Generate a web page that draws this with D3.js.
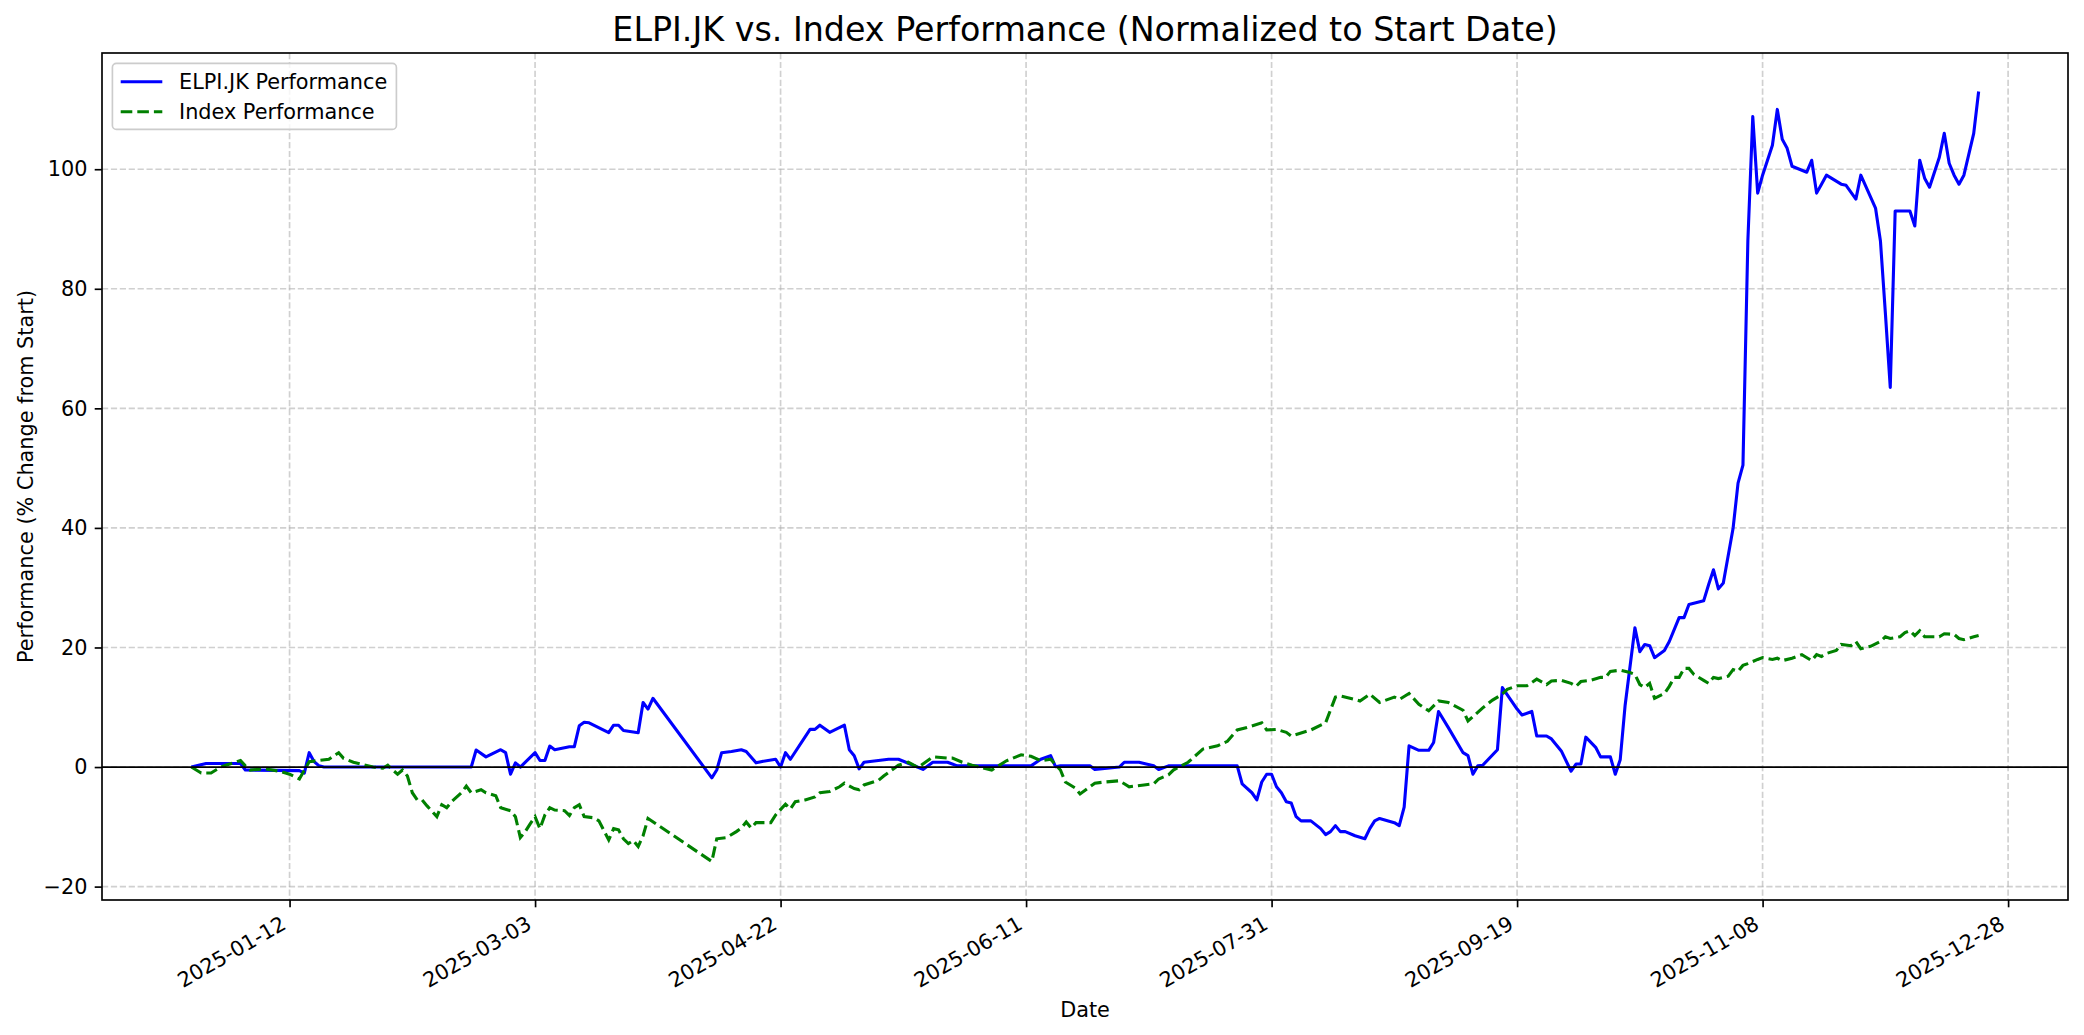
<!DOCTYPE html>
<html>
<head>
<meta charset="utf-8">
<script src="https://cdn.jsdelivr.net/npm/d3@7"></script>
<style>
  body { margin: 0; background: #fff; }
  text { font-family: "DejaVu Sans", sans-serif; fill: #000; }
</style>
</head>
<body>
<div id="chart"></div>
<script>
// values (% change from start)
const elpiDates = [
  "2024-12-23","2024-12-26","2025-01-02","2025-01-03","2025-01-14","2025-01-15","2025-01-16","2025-01-17","2025-01-18","2025-01-19",
  "2025-02-18","2025-02-19","2025-02-21","2025-02-24","2025-02-25","2025-02-26","2025-02-27","2025-02-28",
  "2025-03-03","2025-03-04","2025-03-05","2025-03-06","2025-03-07","2025-03-10","2025-03-11","2025-03-12","2025-03-13","2025-03-14",
  "2025-03-18","2025-03-19","2025-03-20","2025-03-21","2025-03-24","2025-03-25","2025-03-26","2025-03-27",
  "2025-04-08","2025-04-09","2025-04-10","2025-04-12","2025-04-14","2025-04-15","2025-04-17","2025-04-18","2025-04-21","2025-04-22","2025-04-23","2025-04-24",
  "2025-04-28","2025-04-29","2025-04-30","2025-05-02","2025-05-05","2025-05-06","2025-05-07","2025-05-08","2025-05-09","2025-05-14","2025-05-16","2025-05-19","2025-05-21","2025-05-23","2025-05-26","2025-05-28",
  "2025-06-12","2025-06-14","2025-06-16","2025-06-17","2025-06-18","2025-06-24","2025-06-25","2025-06-30","2025-07-01","2025-07-04","2025-07-07","2025-07-08","2025-07-10",
  "2025-07-24","2025-07-25","2025-07-27","2025-07-28","2025-07-29","2025-07-30","2025-07-31","2025-08-01","2025-08-02","2025-08-03","2025-08-04","2025-08-05","2025-08-06","2025-08-08",
  "2025-08-10","2025-08-11","2025-08-12","2025-08-13","2025-08-14","2025-08-15","2025-08-17","2025-08-19","2025-08-20","2025-08-21","2025-08-22","2025-08-25","2025-08-26","2025-08-27",
  "2025-08-28","2025-08-30","2025-09-01","2025-09-02","2025-09-03","2025-09-05","2025-09-08","2025-09-09","2025-09-10","2025-09-11","2025-09-12","2025-09-15","2025-09-16",
  "2025-09-19","2025-09-20","2025-09-22","2025-09-23","2025-09-25","2025-09-26","2025-09-28","2025-09-30",
  "2025-10-01","2025-10-02","2025-10-03","2025-10-05","2025-10-06","2025-10-08","2025-10-09","2025-10-10","2025-10-11","2025-10-13","2025-10-14","2025-10-15",
  "2025-10-16","2025-10-17","2025-10-19","2025-10-20","2025-10-22","2025-10-23","2025-10-24","2025-10-27","2025-10-28","2025-10-29","2025-10-30","2025-10-31",
  "2025-11-02","2025-11-03","2025-11-04","2025-11-05","2025-11-06","2025-11-07","2025-11-08","2025-11-10","2025-11-11","2025-11-12","2025-11-13","2025-11-14",
  "2025-11-17","2025-11-18","2025-11-19","2025-11-20","2025-11-21","2025-11-22","2025-11-24","2025-11-25","2025-11-27","2025-11-28",
  "2025-12-01","2025-12-02","2025-12-03","2025-12-04","2025-12-05","2025-12-08","2025-12-09","2025-12-10","2025-12-11","2025-12-12",
  "2025-12-14","2025-12-15","2025-12-16","2025-12-17","2025-12-18","2025-12-19","2025-12-21","2025-12-22"
];
const elpiValues = [
  0, 0.6, 0.6, -0.5, -0.6, -1.0, 2.4, 0.9, 0.2, 0,
  0, 2.85, 1.7, 2.9, 2.4, -1.2, 0.7, 0,
  2.4, 1.1, 1.1, 3.5, 2.9, 3.4, 3.4, 6.9, 7.5, 7.4,
  5.75, 7.0, 7.0, 6.1, 5.75, 10.8, 9.7, 11.5,
  -1.8, -0.5, 2.4, 2.6, 2.9, 2.6, 0.7, 0.9, 1.3, 0, 2.4, 1.3,
  6.3, 6.3, 7.0, 5.8, 7.0, 2.9, 1.9, -0.3, 0.8, 1.3, 1.3, 0.3, -0.4, 0.8, 0.8, 0.2,
  0.2, 1.3, 1.9, 0.05, 0.2, 0.2, -0.4, 0, 0.8, 0.8, 0.2, -0.4, 0.2,
  0.2, -2.8, -4.3, -5.5, -2.5, -1.2, -1.2, -3.3, -4.3, -5.8, -6.0, -8.3, -9.0, -9.0,
  -10.3, -11.3, -10.8, -9.8, -10.8, -10.8, -11.5, -12, -10.3, -9.0, -8.6, -9.3, -9.8, -6.7,
  3.55, 2.8, 2.8, 4.1, 9.3, 6.6, 2.4, 1.9, -1.2, 0.2, 0.3, 2.9, 13.3,
  9.7, 8.7, 9.3, 5.2, 5.2, 4.7, 2.7, -0.7,
  0.5, 0.5, 5.0, 3.3, 1.7, 1.7, -1.2, 1.2, 10.3, 23.3, 19.3, 20.5,
  20.3, 18.3, 19.5, 21, 25, 25, 27.2, 27.8, 30.5, 33, 29.8, 30.8,
  40, 47.5, 50.5, 88, 108.8, 96, 99, 104, 110, 105, 103.5, 100.5,
  99.5, 101.5, 96, 97.5, 99, 98.5, 97.5, 97.3, 95, 99,
  93.5, 88, 76, 63.5, 93, 93, 90.5, 101.5, 98.5, 97,
  102, 106, 101, 99, 97.5, 99, 106, 113
];

const indexDates = [
  "2024-12-23","2024-12-24","2024-12-25","2024-12-27","2024-12-28","2024-12-29","2024-12-30","2025-01-02","2025-01-03","2025-01-04",
  "2025-01-07","2025-01-10","2025-01-12","2025-01-14","2025-01-16","2025-01-18","2025-01-20","2025-01-22","2025-01-23","2025-01-25",
  "2025-01-27","2025-01-29","2025-01-31","2025-02-01","2025-02-02","2025-02-03","2025-02-04","2025-02-05","2025-02-06","2025-02-07",
  "2025-02-08","2025-02-09","2025-02-11","2025-02-12","2025-02-13","2025-02-14","2025-02-16","2025-02-17","2025-02-18","2025-02-20",
  "2025-02-21","2025-02-23","2025-02-24","2025-02-26","2025-02-27","2025-02-28","2025-03-01","2025-03-02","2025-03-03","2025-03-04",
  "2025-03-05","2025-03-06","2025-03-07","2025-03-09","2025-03-10","2025-03-11","2025-03-12","2025-03-13","2025-03-15","2025-03-16",
  "2025-03-18","2025-03-19","2025-03-20","2025-03-21","2025-03-22","2025-03-23","2025-03-24","2025-03-25","2025-03-26",
  "2025-04-08","2025-04-09","2025-04-11","2025-04-13","2025-04-14","2025-04-15","2025-04-16","2025-04-17","2025-04-20","2025-04-21",
  "2025-04-23","2025-04-24","2025-04-25","2025-04-27","2025-04-29","2025-04-30","2025-05-02","2025-05-04","2025-05-05","2025-05-07",
  "2025-05-08","2025-05-09","2025-05-12","2025-05-13","2025-05-16","2025-05-18","2025-05-20","2025-05-23","2025-05-26","2025-05-27",
  "2025-05-29","2025-05-31","2025-06-04","2025-06-07","2025-06-10","2025-06-12","2025-06-14","2025-06-16","2025-06-18","2025-06-19",
  "2025-06-21","2025-06-22","2025-06-24","2025-06-25","2025-06-27","2025-06-30","2025-07-01","2025-07-02","2025-07-05","2025-07-07",
  "2025-07-08","2025-07-10","2025-07-11","2025-07-14","2025-07-17","2025-07-20","2025-07-22","2025-07-24","2025-07-26","2025-07-29",
  "2025-07-30","2025-08-01","2025-08-03","2025-08-04","2025-08-08","2025-08-11","2025-08-13","2025-08-14","2025-08-17","2025-08-18",
  "2025-08-20","2025-08-22","2025-08-25","2025-08-26","2025-08-28","2025-08-30","2025-09-01","2025-09-03","2025-09-05","2025-09-08",
  "2025-09-09","2025-09-12","2025-09-14","2025-09-16","2025-09-17","2025-09-19","2025-09-21","2025-09-23","2025-09-25","2025-09-26",
  "2025-09-28","2025-09-30","2025-10-01","2025-10-02","2025-10-04","2025-10-06","2025-10-07","2025-10-08","2025-10-10","2025-10-12",
  "2025-10-13","2025-10-14","2025-10-15","2025-10-16","2025-10-17","2025-10-19","2025-10-20","2025-10-21","2025-10-22","2025-10-23",
  "2025-10-24","2025-10-25","2025-10-27","2025-10-28","2025-10-29","2025-10-30","2025-11-01","2025-11-02","2025-11-03","2025-11-04",
  "2025-11-05","2025-11-07","2025-11-08","2025-11-10","2025-11-11","2025-11-12","2025-11-14","2025-11-15","2025-11-16","2025-11-18",
  "2025-11-19","2025-11-20","2025-11-21","2025-11-23","2025-11-24","2025-11-26","2025-11-27","2025-11-28","2025-11-29","2025-11-30",
  "2025-12-02","2025-12-03","2025-12-04","2025-12-06","2025-12-07","2025-12-08","2025-12-09","2025-12-10","2025-12-11","2025-12-14",
  "2025-12-15","2025-12-17","2025-12-18","2025-12-19","2025-12-21","2025-12-22"
];
const indexValues = [
  0, -0.5, -1.0, -1.0, -0.5, 0, 0.3, 1.1, 0.2, -0.5,
  -0.3, -0.7, -1.2, -2.0, 0.9, 1.1, 1.3, 2.4, 1.45, 0.8,
  0.4, 0, -0.2, 0.3, -0.5, -1.2, -0.5, -1.5, -4.3, -5.5,
  -5.5, -6.5, -8.3, -6.3, -6.8, -5.8, -4.3, -3.2, -4.3, -3.8,
  -4.3, -4.8, -6.8, -7.3, -8.3, -11.8, -10.8, -9.5, -8.3, -10.3,
  -8, -6.8, -7.2, -7.3, -8.1, -6.8, -6.3, -8.3, -8.5, -9,
  -12.2, -10.3, -10.5, -12, -12.8, -12.3, -13.3, -11.5, -8.6,
  -15.8, -12, -11.8, -10.8, -10.2, -9.2, -10.2, -9.3, -9.3, -8,
  -6.2, -7, -5.8, -5.5, -5, -4.3, -4.1, -3.3, -2.7, -3.6,
  -3.8, -3, -2.2, -1.5, 0.3, 0.8, -0.05, 1.7, 1.5, 1.5,
  0.8, 0.3, -0.5, 1.05, 2.05, 1.8, 1.05, 1.3, -0.5, -2.5,
  -3.5, -4.5, -3.3, -2.7, -2.5, -2.3, -2.8, -3.3, -3, -2.8,
  -2, -1.3, -0.5, 0.8, 3.0, 3.55, 4.3, 6.2, 6.6, 7.4,
  6.2, 6.3, 5.8, 5.2, 6.2, 7.4, 11.7, 11.9, 11.3, 11.05,
  12.2, 10.8, 11.7, 11.3, 12.3, 10.5, 9.4, 11.05, 10.8, 9.5,
  7.7, 9.9, 11.2, 12.2, 13.0, 13.6, 13.6, 14.7, 13.8, 14.4,
  14.5, 14, 13.5, 14.3, 14.5, 15, 15, 16, 16.2, 15.8,
  15.5, 13.8, 13.3, 14, 11.5, 12.3, 13.5, 15, 15, 16.5,
  16.5, 15.5, 14.5, 14, 15, 14.8, 15.2, 16.3, 16, 17,
  17.3, 18, 18.3, 18, 18.2, 17.8, 18.2, 18.5, 18.8, 17.8,
  18.8, 18.5, 19, 19.5, 20.5, 20.3, 21, 19.8, 20, 20.2,
  21, 21.8, 21.5, 21.8, 22.5, 22.8, 22, 22.8, 21.8, 21.8,
  22.3, 22.2, 21.5, 21.3, 21.8, 22
];

const xTickLabels = ["2025-01-12", "2025-03-03", "2025-04-22", "2025-06-11", "2025-07-31", "2025-09-19", "2025-11-08", "2025-12-28"];
const yTickValues = [-20, 0, 20, 40, 60, 80, 100];

const width = 2084, height = 1035;
const plotLeft = 102, plotRight = 2068, plotTop = 53, plotBottom = 900;
const fs = 20.8; // 10pt at 150 dpi
const lw = 1.67; // 0.8pt

const parse = d3.utcParse("%Y-%m-%d");
const elpi = elpiDates.map((d, i) => ({ date: parse(d), value: elpiValues[i] }));
const index = indexDates.map((d, i) => ({ date: parse(d), value: indexValues[i] }));
const all = elpi.concat(index);

// 5% margins like matplotlib
const [d0, d1] = d3.extent(all, d => d.date);
const dspan = d1 - d0;
const x = d3.scaleUtc()
  .domain([new Date(+d0 - 0.05 * dspan), new Date(+d1 + 0.05 * dspan)])
  .range([plotLeft, plotRight]);

const [v0, v1] = d3.extent(all, d => d.value);
const vspan = v1 - v0;
const y = d3.scaleLinear()
  .domain([v0 - 0.05 * vspan, v1 + 0.05 * vspan])
  .range([plotBottom, plotTop]);

const svg = d3.select("#chart").append("svg")
  .attr("width", width)
  .attr("height", height);

svg.append("rect").attr("width", width).attr("height", height).attr("fill", "#fff");

const xTicks = xTickLabels.map(parse);

// grid
const grid = svg.append("g")
  .attr("stroke", "#b0b0b0")
  .attr("stroke-opacity", 0.6)
  .attr("stroke-width", lw)
  .attr("stroke-dasharray", "6.2,2.7");

grid.selectAll("line.gx")
  .data(xTicks)
  .enter()
  .append("line")
  .attr("class", "gx")
  .attr("x1", d => x(d)).attr("x2", d => x(d))
  .attr("y1", plotTop).attr("y2", plotBottom);

grid.selectAll("line.gy")
  .data(yTickValues)
  .enter()
  .append("line")
  .attr("class", "gy")
  .attr("x1", plotLeft).attr("x2", plotRight)
  .attr("y1", d => y(d)).attr("y2", d => y(d));

// lines
svg.append("clipPath").attr("id", "plotClip")
  .append("rect")
  .attr("x", plotLeft).attr("y", plotTop)
  .attr("width", plotRight - plotLeft).attr("height", plotBottom - plotTop);

const line = d3.line()
  .x(d => x(d.date))
  .y(d => y(d.value));

const plot = svg.append("g").attr("clip-path", "url(#plotClip)");

plot.append("path")
  .datum(elpi)
  .attr("d", line)
  .attr("fill", "none")
  .attr("stroke", "#0000ff")
  .attr("stroke-width", 3.1)
  .attr("stroke-linejoin", "round");

plot.append("path")
  .datum(index)
  .attr("d", line)
  .attr("fill", "none")
  .attr("stroke", "#008000")
  .attr("stroke-width", 3.1)
  .attr("stroke-dasharray", "11.6,5");

// zero line
plot.append("line")
  .attr("x1", plotLeft).attr("x2", plotRight)
  .attr("y1", y(0)).attr("y2", y(0))
  .attr("stroke", "#000")
  .attr("stroke-width", lw);

// axes
const xAxis = svg.append("g")
  .attr("transform", `translate(0,${plotBottom})`)
  .call(d3.axisBottom(x).tickValues(xTicks).tickSize(7.3).tickFormat(d3.utcFormat("%Y-%m-%d")));

xAxis.select(".domain").remove();
xAxis.selectAll(".tick line").attr("stroke", "#000").attr("stroke-width", lw);
xAxis.selectAll(".tick text")
  .attr("x", 0).attr("y", 0).attr("dy", null)
  .attr("text-anchor", "end")
  .attr("font-size", fs)
  .attr("font-family", "DejaVu Sans")
  .attr("fill", "#000")
  .attr("transform", "translate(-2.5,27.8) rotate(-30)");

const yAxis = svg.append("g")
  .attr("transform", `translate(${plotLeft},0)`)
  .call(d3.axisLeft(y).tickValues(yTickValues).tickSize(7.3).tickPadding(7.3).tickFormat(d => d < 0 ? "\u2212" + Math.abs(d) : d));

yAxis.select(".domain").remove();
yAxis.selectAll(".tick line").attr("stroke", "#000").attr("stroke-width", lw);
yAxis.selectAll(".tick text")
  .attr("font-size", fs)
  .attr("font-family", "DejaVu Sans")
  .attr("fill", "#000");

// frame
svg.append("rect")
  .attr("x", plotLeft).attr("y", plotTop)
  .attr("width", plotRight - plotLeft).attr("height", plotBottom - plotTop)
  .attr("fill", "none")
  .attr("stroke", "#000")
  .attr("stroke-width", lw);

// title and labels
svg.append("text")
  .attr("x", (plotLeft + plotRight) / 2)
  .attr("y", 40.5)
  .attr("text-anchor", "middle")
  .attr("font-size", 33.3)
  .text("ELPI.JK vs. Index Performance (Normalized to Start Date)");

svg.append("text")
  .attr("x", (plotLeft + plotRight) / 2)
  .attr("y", 1016.5)
  .attr("text-anchor", "middle")
  .attr("font-size", fs)
  .text("Date");

svg.append("text")
  .attr("transform", `translate(33,${(plotTop + plotBottom) / 2}) rotate(-90)`)
  .attr("text-anchor", "middle")
  .attr("font-size", fs)
  .text("Performance (% Change from Start)");

// legend
const legendItems = [
  { label: "ELPI.JK Performance", color: "#0000ff", dash: null },
  { label: "Index Performance", color: "#008000", dash: "11.6,5" }
];

const legend = svg.append("g");
legend.append("rect")
  .attr("x", 112.4).attr("y", 63.4)
  .attr("width", 284).attr("height", 66)
  .attr("rx", 4)
  .attr("fill", "#fff")
  .attr("fill-opacity", 0.8)
  .attr("stroke", "#cccccc")
  .attr("stroke-width", lw);

const rows = legend.selectAll("g.row")
  .data(legendItems)
  .enter()
  .append("g")
  .attr("class", "row")
  .attr("transform", (d, i) => `translate(0,${81.7 + i * 30})`);

rows.append("line")
  .attr("x1", 120.7).attr("x2", 162.3)
  .attr("stroke", d => d.color)
  .attr("stroke-width", 3.1)
  .attr("stroke-dasharray", d => d.dash);

rows.append("text")
  .attr("x", 179)
  .attr("y", 7.5)
  .attr("font-size", fs)
  .text(d => d.label);
</script>
</body>
</html>
